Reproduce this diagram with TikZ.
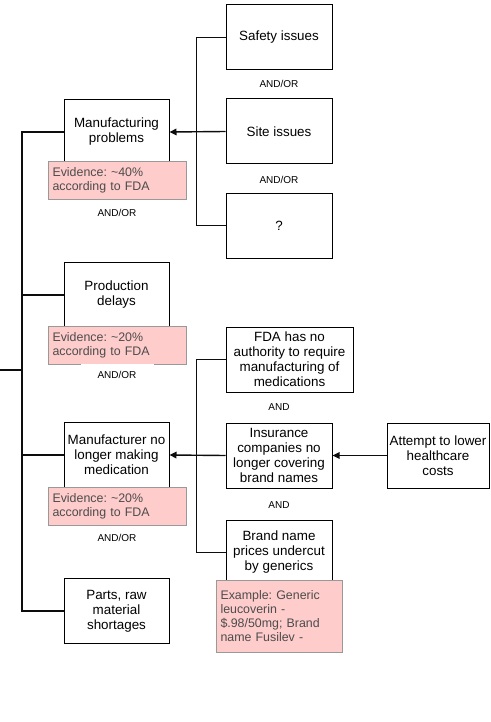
\documentclass[tikz,border=0pt]{standalone}
\usepackage{fontspec}
\setmainfont{Liberation Sans}
\usetikzlibrary{arrows.meta}
\frenchspacing

\begin{document}
\begin{tikzpicture}[x=1pt,y=-1pt,
  causebox/.style={draw=black,line width=1pt,fill=white,align=center,inner sep=2pt,
    minimum width=105pt,minimum height=65pt,font=\fontsize{13.4}{15}\selectfont},
  notebox/.style={draw=noteline,line width=1pt,fill=notefill,text=notetext,align=left,
    anchor=north west,inner xsep=4pt,font=\fontsize{12.4}{14}\selectfont},
  joinlabel/.style={fill=white,minimum width=73pt,minimum height=23pt,inner sep=0pt,
    font=\fontsize{10}{12}\selectfont},
  link/.style={draw=linecolor,line width=1.4pt},
  tip/.style={-{Stealth[length=7pt,width=6.5pt,inset=0pt]}}]
\definecolor{linecolor}{rgb}{0.050000, 0.050000, 0.050000}
\definecolor{notefill}{rgb}{1.000000, 0.800000, 0.800000}
\definecolor{noteline}{rgb}{0.600000, 0.600000, 0.600000}
\definecolor{notetext}{rgb}{0.300000, 0.300000, 0.300000}
\useasboundingbox (0,0) rectangle (490,722);

% causes
\node[causebox] (mfg) at (116.5,132) {Manufacturing\\problems};
\node[causebox] (delay) at (116.5,295) {Production\\delays};
\node[causebox] (mfr) at (116.5,455) {Manufacturer no\\longer making\\medication};
\node[causebox] (parts) at (116.5,611) {Parts, raw\\material\\shortages};

\node[causebox,minimum width=106pt] (safety) at (279,37.5) {Safety issues};
\node[causebox,minimum width=106pt] (site) at (279,131.5) {Site issues};
\node[causebox,minimum width=106pt] (unknown) at (279,225.5) {?};

\node[causebox,minimum width=127pt] (fda) at (289.5,359.5) {FDA has no\\authority to require\\manufacturing of\\medications};
\node[causebox,minimum width=106pt] (insure) at (279,455.5) {Insurance\\companies no\\longer covering\\brand names};
\node[causebox,minimum width=106pt] (brand) at (279,552.5) {Brand name\\prices undercut\\by generics};
\node[causebox,minimum width=102pt] (attempt) at (438,455.5) {Attempt to lower\\healthcare\\costs};

% notes
\node[notebox,text width=130pt,minimum height=38pt] (mfgnote) at (48,161) {Evidence: \textasciitilde40\%\\according to FDA};
\node[notebox,text width=130pt,minimum height=38pt] (delaynote) at (48,326) {Evidence: \textasciitilde20\%\\according to FDA};
\node[notebox,text width=130pt,minimum height=38pt] (mfrnote) at (48,487) {Evidence: \textasciitilde20\%\\according to FDA};
\node[notebox,text width=118pt,minimum height=72pt] (brandnote) at (216,580) {Example: Generic\\leucoverin -\\\$.98/50mg; Brand\\name Fusilev -};

% joins
\node[joinlabel] (or1) at (117,213) {AND/OR};
\node[joinlabel] (or2) at (117,375) {AND/OR};
\node[joinlabel] (or3) at (117,538) {AND/OR};
\node[joinlabel] (or4) at (279,84) {AND/OR};
\node[joinlabel] (or5) at (279,180) {AND/OR};
\node[joinlabel] (and1) at (279,407) {AND};
\node[joinlabel] (and2) at (279,505) {AND};

% connectors
\coordinate (root) at (0,370);
\coordinate (trunk) at (22,370);
\draw[link] (root) -- (trunk);
\foreach \n in {mfg,delay,mfr,parts}
  \draw[link] (trunk) |- (\n.west);

\draw[link] (safety.west) -- ++(-29,0) |- (unknown.west);
\draw[link,tip] (site.west) -- (mfg.east);

\draw[link] (fda.west) -- ++(-29,0) |- (brand.west);
\draw[link,tip] (insure.west) -- (mfr.east);
\draw[link,tip] (attempt.west) -- (insure.east);
\end{tikzpicture}
\end{document}
